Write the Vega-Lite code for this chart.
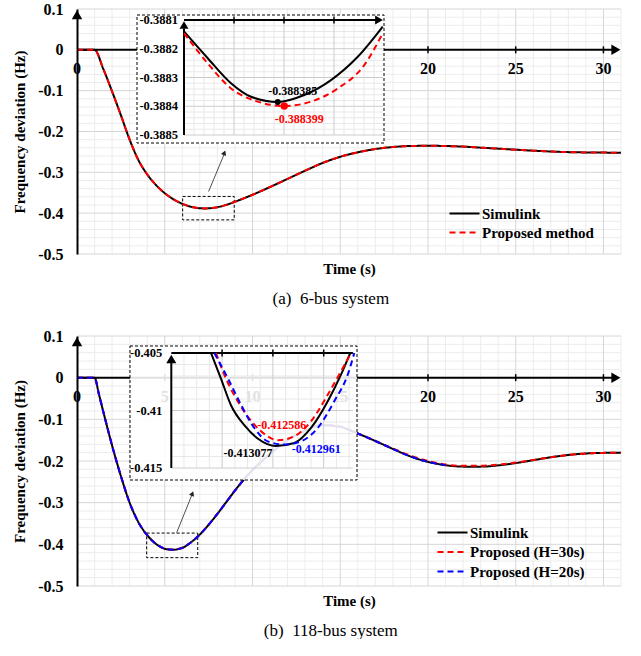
{
  "$schema": "https://vega.github.io/schema/vega-lite/v6.json",
  "padding": {"left": 12, "top": 1, "right": 0, "bottom": 0},
  "background": "white",
  "config": {
    "font": "Liberation Serif",
    "view": {"stroke": null},
    "locale": {"number": {"decimal": ".", "thousands": ",", "grouping": [3], "currency": ["$", ""], "minus": "-"}},
    "axis": {"labelColor": "black", "titleColor": "black"}
  },
  "spacing": 21,
  "resolve": {"scale": {"color": "independent", "strokeDash": "independent"}},
  "datasets": {
    "p1": [
      {"t":0,"v":0,"s":"Simulink"},{"t":1,"v":0,"s":"Simulink"},{"t":1.5,"v":-0.047,"s":"Simulink"},{"t":2,"v":-0.102,"s":"Simulink"},{"t":2.5,"v":-0.16,"s":"Simulink"},{"t":3,"v":-0.22,"s":"Simulink"},{"t":3.5,"v":-0.27,"s":"Simulink"},{"t":4,"v":-0.305,"s":"Simulink"},{"t":4.5,"v":-0.331,"s":"Simulink"},{"t":5,"v":-0.351,"s":"Simulink"},{"t":5.5,"v":-0.366,"s":"Simulink"},{"t":6,"v":-0.377,"s":"Simulink"},{"t":6.5,"v":-0.3842,"s":"Simulink"},{"t":7,"v":-0.3879,"s":"Simulink"},{"t":7.25,"v":-0.3884,"s":"Simulink"},{"t":7.5,"v":-0.3881,"s":"Simulink"},{"t":8,"v":-0.3853,"s":"Simulink"},{"t":8.5,"v":-0.3797,"s":"Simulink"},{"t":9,"v":-0.372,"s":"Simulink"},{"t":10,"v":-0.355,"s":"Simulink"},{"t":11,"v":-0.336,"s":"Simulink"},{"t":12,"v":-0.316,"s":"Simulink"},{"t":13,"v":-0.296,"s":"Simulink"},{"t":14,"v":-0.277,"s":"Simulink"},{"t":15,"v":-0.262,"s":"Simulink"},{"t":16,"v":-0.251,"s":"Simulink"},{"t":17,"v":-0.243,"s":"Simulink"},{"t":18,"v":-0.238,"s":"Simulink"},{"t":19,"v":-0.2355,"s":"Simulink"},{"t":20,"v":-0.235,"s":"Simulink"},{"t":21,"v":-0.2355,"s":"Simulink"},{"t":22,"v":-0.237,"s":"Simulink"},{"t":23,"v":-0.2395,"s":"Simulink"},{"t":24,"v":-0.242,"s":"Simulink"},{"t":25,"v":-0.2445,"s":"Simulink"},{"t":26,"v":-0.247,"s":"Simulink"},{"t":27,"v":-0.249,"s":"Simulink"},{"t":28,"v":-0.2505,"s":"Simulink"},{"t":29,"v":-0.2513,"s":"Simulink"},{"t":30,"v":-0.2517,"s":"Simulink"},{"t":31,"v":-0.2518,"s":"Simulink"},
      {"t":0,"v":0,"s":"Proposed method"},{"t":1,"v":0,"s":"Proposed method"},{"t":1.5,"v":-0.047,"s":"Proposed method"},{"t":2,"v":-0.102,"s":"Proposed method"},{"t":2.5,"v":-0.16,"s":"Proposed method"},{"t":3,"v":-0.22,"s":"Proposed method"},{"t":3.5,"v":-0.27,"s":"Proposed method"},{"t":4,"v":-0.305,"s":"Proposed method"},{"t":4.5,"v":-0.331,"s":"Proposed method"},{"t":5,"v":-0.351,"s":"Proposed method"},{"t":5.5,"v":-0.366,"s":"Proposed method"},{"t":6,"v":-0.377,"s":"Proposed method"},{"t":6.5,"v":-0.3842,"s":"Proposed method"},{"t":7,"v":-0.3879,"s":"Proposed method"},{"t":7.25,"v":-0.3884,"s":"Proposed method"},{"t":7.5,"v":-0.3881,"s":"Proposed method"},{"t":8,"v":-0.3853,"s":"Proposed method"},{"t":8.5,"v":-0.3797,"s":"Proposed method"},{"t":9,"v":-0.372,"s":"Proposed method"},{"t":10,"v":-0.355,"s":"Proposed method"},{"t":11,"v":-0.336,"s":"Proposed method"},{"t":12,"v":-0.316,"s":"Proposed method"},{"t":13,"v":-0.296,"s":"Proposed method"},{"t":14,"v":-0.277,"s":"Proposed method"},{"t":15,"v":-0.262,"s":"Proposed method"},{"t":16,"v":-0.251,"s":"Proposed method"},{"t":17,"v":-0.243,"s":"Proposed method"},{"t":18,"v":-0.238,"s":"Proposed method"},{"t":19,"v":-0.2355,"s":"Proposed method"},{"t":20,"v":-0.235,"s":"Proposed method"},{"t":21,"v":-0.2355,"s":"Proposed method"},{"t":22,"v":-0.237,"s":"Proposed method"},{"t":23,"v":-0.2395,"s":"Proposed method"},{"t":24,"v":-0.242,"s":"Proposed method"},{"t":25,"v":-0.2445,"s":"Proposed method"},{"t":26,"v":-0.247,"s":"Proposed method"},{"t":27,"v":-0.249,"s":"Proposed method"},{"t":28,"v":-0.2505,"s":"Proposed method"},{"t":29,"v":-0.2513,"s":"Proposed method"},{"t":30,"v":-0.2517,"s":"Proposed method"},{"t":31,"v":-0.2518,"s":"Proposed method"}
    ],
    "p2": [
      {"t":0,"v":0,"s":"Simulink"},{"t":1,"v":0,"s":"Simulink"},{"t":1.25,"v":-0.04,"s":"Simulink"},{"t":1.5,"v":-0.082,"s":"Simulink"},{"t":2,"v":-0.163,"s":"Simulink"},{"t":2.5,"v":-0.236,"s":"Simulink"},{"t":3,"v":-0.3,"s":"Simulink"},{"t":3.5,"v":-0.347,"s":"Simulink"},{"t":4,"v":-0.378,"s":"Simulink"},{"t":4.5,"v":-0.399,"s":"Simulink"},{"t":5,"v":-0.4105,"s":"Simulink"},{"t":5.45,"v":-0.4131,"s":"Simulink"},{"t":6,"v":-0.4085,"s":"Simulink"},{"t":6.5,"v":-0.395,"s":"Simulink"},{"t":7,"v":-0.3765,"s":"Simulink"},{"t":7.5,"v":-0.353,"s":"Simulink"},{"t":8,"v":-0.327,"s":"Simulink"},{"t":8.5,"v":-0.299,"s":"Simulink"},{"t":9,"v":-0.271,"s":"Simulink"},{"t":9.5,"v":-0.245,"s":"Simulink"},{"t":10,"v":-0.222,"s":"Simulink"},{"t":11,"v":-0.183,"s":"Simulink"},{"t":12,"v":-0.15,"s":"Simulink"},{"t":13,"v":-0.127,"s":"Simulink"},{"t":14,"v":-0.114,"s":"Simulink"},{"t":15,"v":-0.118,"s":"Simulink"},{"t":16,"v":-0.134,"s":"Simulink"},{"t":17,"v":-0.152,"s":"Simulink"},{"t":18,"v":-0.171,"s":"Simulink"},{"t":19,"v":-0.189,"s":"Simulink"},{"t":20,"v":-0.202,"s":"Simulink"},{"t":21,"v":-0.21,"s":"Simulink"},{"t":22,"v":-0.2135,"s":"Simulink"},{"t":23,"v":-0.2135,"s":"Simulink"},{"t":24,"v":-0.2105,"s":"Simulink"},{"t":25,"v":-0.205,"s":"Simulink"},{"t":26,"v":-0.198,"s":"Simulink"},{"t":27,"v":-0.191,"s":"Simulink"},{"t":28,"v":-0.1855,"s":"Simulink"},{"t":29,"v":-0.182,"s":"Simulink"},{"t":30,"v":-0.1805,"s":"Simulink"},{"t":31,"v":-0.18,"s":"Simulink"},
      {"t":0,"v":0,"s":"Proposed (H=30s)"},{"t":1,"v":0,"s":"Proposed (H=30s)"},{"t":1.25,"v":-0.04,"s":"Proposed (H=30s)"},{"t":1.5,"v":-0.082,"s":"Proposed (H=30s)"},{"t":2,"v":-0.163,"s":"Proposed (H=30s)"},{"t":2.5,"v":-0.236,"s":"Proposed (H=30s)"},{"t":3,"v":-0.3,"s":"Proposed (H=30s)"},{"t":3.5,"v":-0.347,"s":"Proposed (H=30s)"},{"t":4,"v":-0.378,"s":"Proposed (H=30s)"},{"t":4.5,"v":-0.3988,"s":"Proposed (H=30s)"},{"t":5,"v":-0.4101,"s":"Proposed (H=30s)"},{"t":5.45,"v":-0.4126,"s":"Proposed (H=30s)"},{"t":6,"v":-0.4082,"s":"Proposed (H=30s)"},{"t":6.5,"v":-0.395,"s":"Proposed (H=30s)"},{"t":7,"v":-0.3765,"s":"Proposed (H=30s)"},{"t":7.5,"v":-0.353,"s":"Proposed (H=30s)"},{"t":8,"v":-0.327,"s":"Proposed (H=30s)"},{"t":8.5,"v":-0.299,"s":"Proposed (H=30s)"},{"t":9,"v":-0.271,"s":"Proposed (H=30s)"},{"t":9.5,"v":-0.245,"s":"Proposed (H=30s)"},{"t":10,"v":-0.222,"s":"Proposed (H=30s)"},{"t":11,"v":-0.183,"s":"Proposed (H=30s)"},{"t":12,"v":-0.15,"s":"Proposed (H=30s)"},{"t":13,"v":-0.127,"s":"Proposed (H=30s)"},{"t":14,"v":-0.114,"s":"Proposed (H=30s)"},{"t":15,"v":-0.118,"s":"Proposed (H=30s)"},{"t":16,"v":-0.134,"s":"Proposed (H=30s)"},{"t":17,"v":-0.152,"s":"Proposed (H=30s)"},{"t":18,"v":-0.17,"s":"Proposed (H=30s)"},{"t":19,"v":-0.187,"s":"Proposed (H=30s)"},{"t":20,"v":-0.2,"s":"Proposed (H=30s)"},{"t":21,"v":-0.2085,"s":"Proposed (H=30s)"},{"t":22,"v":-0.2115,"s":"Proposed (H=30s)"},{"t":23,"v":-0.2115,"s":"Proposed (H=30s)"},{"t":24,"v":-0.2088,"s":"Proposed (H=30s)"},{"t":25,"v":-0.2038,"s":"Proposed (H=30s)"},{"t":26,"v":-0.1975,"s":"Proposed (H=30s)"},{"t":27,"v":-0.191,"s":"Proposed (H=30s)"},{"t":28,"v":-0.1855,"s":"Proposed (H=30s)"},{"t":29,"v":-0.182,"s":"Proposed (H=30s)"},{"t":30,"v":-0.1805,"s":"Proposed (H=30s)"},{"t":31,"v":-0.18,"s":"Proposed (H=30s)"},
      {"t":0,"v":0,"s":"Proposed (H=20s)"},{"t":1,"v":0,"s":"Proposed (H=20s)"},{"t":1.25,"v":-0.04,"s":"Proposed (H=20s)"},{"t":1.5,"v":-0.082,"s":"Proposed (H=20s)"},{"t":2,"v":-0.163,"s":"Proposed (H=20s)"},{"t":2.5,"v":-0.236,"s":"Proposed (H=20s)"},{"t":3,"v":-0.3,"s":"Proposed (H=20s)"},{"t":3.5,"v":-0.347,"s":"Proposed (H=20s)"},{"t":4,"v":-0.378,"s":"Proposed (H=20s)"},{"t":4.5,"v":-0.399,"s":"Proposed (H=20s)"},{"t":5,"v":-0.4103,"s":"Proposed (H=20s)"},{"t":5.45,"v":-0.41296,"s":"Proposed (H=20s)"},{"t":6,"v":-0.4085,"s":"Proposed (H=20s)"},{"t":6.5,"v":-0.395,"s":"Proposed (H=20s)"},{"t":7,"v":-0.3765,"s":"Proposed (H=20s)"},{"t":7.5,"v":-0.353,"s":"Proposed (H=20s)"},{"t":8,"v":-0.327,"s":"Proposed (H=20s)"},{"t":8.5,"v":-0.299,"s":"Proposed (H=20s)"},{"t":9,"v":-0.271,"s":"Proposed (H=20s)"},{"t":9.5,"v":-0.245,"s":"Proposed (H=20s)"},{"t":10,"v":-0.222,"s":"Proposed (H=20s)"},{"t":11,"v":-0.183,"s":"Proposed (H=20s)"},{"t":12,"v":-0.15,"s":"Proposed (H=20s)"},{"t":13,"v":-0.127,"s":"Proposed (H=20s)"},{"t":14,"v":-0.114,"s":"Proposed (H=20s)"},{"t":15,"v":-0.118,"s":"Proposed (H=20s)"},{"t":16,"v":-0.134,"s":"Proposed (H=20s)"},{"t":17,"v":-0.152,"s":"Proposed (H=20s)"},{"t":18,"v":-0.171,"s":"Proposed (H=20s)"},{"t":19,"v":-0.189,"s":"Proposed (H=20s)"},{"t":20,"v":-0.202,"s":"Proposed (H=20s)"},{"t":21,"v":-0.21,"s":"Proposed (H=20s)"}
    ],
    "xl1": [{"t":0},{"t":20},{"t":25},{"t":30}],
    "xl2": [{"t":0},{"t":5},{"t":10},{"t":15},{"t":20},{"t":25},{"t":30}],
    "xt": [{"t":5},{"t":10},{"t":15},{"t":20},{"t":25},{"t":30}],
    "gmxmin": [{"x":1},{"x":2},{"x":3},{"x":4},{"x":6},{"x":7},{"x":8},{"x":9},{"x":11},{"x":12},{"x":13},{"x":14},{"x":16},{"x":17},{"x":18},{"x":19},{"x":21},{"x":22},{"x":23},{"x":24},{"x":26},{"x":27},{"x":28},{"x":29},{"x":31}],
    "gmxmaj": [{"x":5},{"x":10},{"x":15},{"x":20},{"x":25},{"x":30}],
    "gmymin": [{"y":-0.48},{"y":-0.46},{"y":-0.44},{"y":-0.42},{"y":-0.38},{"y":-0.36},{"y":-0.34},{"y":-0.32},{"y":-0.28},{"y":-0.26},{"y":-0.24},{"y":-0.22},{"y":-0.18},{"y":-0.16},{"y":-0.14},{"y":-0.12},{"y":-0.08},{"y":-0.06},{"y":-0.04},{"y":-0.02},{"y":0.02},{"y":0.04},{"y":0.06},{"y":0.08}],
    "gmymaj": [{"y":-0.5},{"y":-0.4},{"y":-0.3},{"y":-0.2},{"y":-0.1},{"y":0.1}],
    "i1vmin": [{"x":6.94},{"x":6.98},{"x":7.02},{"x":7.06},{"x":7.14},{"x":7.18},{"x":7.22},{"x":7.26},{"x":7.34},{"x":7.38},{"x":7.42},{"x":7.46},{"x":7.54},{"x":7.58},{"x":7.62},{"x":7.66}],
    "i1vmaj": [{"x":7.1},{"x":7.3},{"x":7.5}],
    "i1hmin": [{"y":-0.38812},{"y":-0.38814},{"y":-0.38816},{"y":-0.38818},{"y":-0.38822},{"y":-0.38824},{"y":-0.38826},{"y":-0.38828},{"y":-0.38832},{"y":-0.38834},{"y":-0.38836},{"y":-0.38838},{"y":-0.38842},{"y":-0.38844},{"y":-0.38846},{"y":-0.38848}],
    "i1hmaj": [{"y":-0.3882},{"y":-0.3883},{"y":-0.3884},{"y":-0.3885}],
    "i1lab": [{"y":-0.3881},{"y":-0.3882},{"y":-0.3883},{"y":-0.3884},{"y":-0.3885}],
    "i1k": [{"t":6.9,"v":-0.38814},{"t":6.995,"v":-0.388233},{"t":7.088,"v":-0.38832},{"t":7.168,"v":-0.388367},{"t":7.275,"v":-0.388385},{"t":7.381,"v":-0.388361},{"t":7.488,"v":-0.388309},{"t":7.595,"v":-0.388228},{"t":7.695,"v":-0.388123}],
    "i1r": [{"t":6.9,"v":-0.388146},{"t":6.995,"v":-0.388251},{"t":7.088,"v":-0.388338},{"t":7.195,"v":-0.388384},{"t":7.301,"v":-0.388399},{"t":7.408,"v":-0.388384},{"t":7.515,"v":-0.388338},{"t":7.621,"v":-0.388257},{"t":7.695,"v":-0.388146}],
    "i2vmin": [{"x":4.7},{"x":4.8},{"x":4.9},{"x":5.1},{"x":5.2},{"x":5.3},{"x":5.5},{"x":5.6},{"x":5.7},{"x":5.9},{"x":6.0}],
    "i2vmaj": [{"x":5.0},{"x":5.4},{"x":5.8}],
    "i2hmin": [{"y":-0.406},{"y":-0.407},{"y":-0.408},{"y":-0.409},{"y":-0.411},{"y":-0.412},{"y":-0.413},{"y":-0.414}],
    "i2hmaj": [{"y":-0.41},{"y":-0.415}],
    "i2lab": [{"y":-0.405},{"y":-0.41},{"y":-0.415}],
    "i2k": [{"t":4.913,"v":-0.405},{"t":4.991,"v":-0.40722},{"t":5.07,"v":-0.40954},{"t":5.175,"v":-0.41128},{"t":5.28,"v":-0.41243},{"t":5.424,"v":-0.413077},{"t":5.569,"v":-0.41283},{"t":5.7,"v":-0.41152},{"t":5.832,"v":-0.4092},{"t":5.936,"v":-0.40688},{"t":6.009,"v":-0.405}],
    "i2r": [{"t":4.952,"v":-0.405},{"t":5.017,"v":-0.40689},{"t":5.123,"v":-0.4092},{"t":5.254,"v":-0.41123},{"t":5.359,"v":-0.41224},{"t":5.438,"v":-0.412586},{"t":5.569,"v":-0.41224},{"t":5.7,"v":-0.41094},{"t":5.832,"v":-0.40863},{"t":5.936,"v":-0.40659},{"t":6.015,"v":-0.405}],
    "i2b": [{"t":4.939,"v":-0.405},{"t":5.044,"v":-0.40717},{"t":5.149,"v":-0.4095},{"t":5.254,"v":-0.41152},{"t":5.359,"v":-0.41268},{"t":5.49,"v":-0.412961},{"t":5.621,"v":-0.41268},{"t":5.753,"v":-0.41152},{"t":5.883,"v":-0.4092},{"t":5.989,"v":-0.40689},{"t":6.041,"v":-0.405}]
  },
  "vconcat": [
    {
      "width": 544, "height": 245,
      "title": {"text": "(a)\u00a0 6-bus system", "orient": "bottom", "anchor": "middle", "frame": "bounds", "fontSize": 17, "fontWeight": "normal", "offset": 15, "dx": 12, "color": "black"},
      "resolve": {"scale": {"x": "independent", "y": "independent"}},
      "layer": [
        {
          "layer": [
            {"data": {"name": "gmxmin"}, "mark": {"type": "rule", "color": "#ececec", "strokeWidth": 1},
             "encoding": {"x": {"field": "x", "type": "quantitative", "scale": {"domain": [0, 31], "nice": false, "zero": false}}, "y": {"datum": -0.5, "type": "quantitative", "scale": {"domain": [-0.5, 0.1], "nice": false, "zero": false}}, "y2": {"datum": 0.1}}},
            {"data": {"name": "gmymin"}, "mark": {"type": "rule", "color": "#ececec", "strokeWidth": 1},
             "encoding": {"y": {"field": "y", "type": "quantitative"}, "x": {"datum": 0, "type": "quantitative"}, "x2": {"datum": 31}}},
            {"data": {"name": "gmxmaj"}, "mark": {"type": "rule", "color": "#d6d6d6", "strokeWidth": 1},
             "encoding": {"x": {"field": "x", "type": "quantitative"}, "y": {"datum": -0.5, "type": "quantitative"}, "y2": {"datum": 0.1}}},
            {"data": {"name": "gmymaj"}, "mark": {"type": "rule", "color": "#d6d6d6", "strokeWidth": 1},
             "encoding": {"y": {"field": "y", "type": "quantitative"}, "x": {"datum": 0, "type": "quantitative"}, "x2": {"datum": 31}}},
            {"data": {"values": [{}]}, "mark": {"type": "rule", "color": "black", "strokeWidth": 2},
             "encoding": {"x": {"datum": 0, "type": "quantitative"}, "x2": {"datum": 30.7}, "y": {"datum": 0, "type": "quantitative"}}},
            {"data": {"values": [{}]}, "mark": {"type": "point", "shape": "triangle-right", "filled": true, "color": "black", "size": 110, "opacity": 1},
             "encoding": {"x": {"datum": 30.71, "type": "quantitative"}, "y": {"datum": 0, "type": "quantitative"}}},
            {"data": {"values": [{}]}, "mark": {"type": "point", "shape": "triangle-up", "filled": true, "color": "black", "size": 110, "opacity": 1},
             "encoding": {"x": {"datum": 0, "type": "quantitative"}, "y": {"datum": 0.086, "type": "quantitative"}}},
            {"data": {"name": "xt"}, "mark": {"type": "tick", "orient": "vertical", "size": 7, "thickness": 1.5, "color": "black", "opacity": 1},
             "encoding": {"x": {"field": "t", "type": "quantitative"}, "y": {"datum": 0, "type": "quantitative"}}},
            {"data": {"name": "xl1"}, "mark": {"type": "text", "fontSize": 16, "fontWeight": "bold", "dy": 19, "color": "black", "baseline": "middle"},
             "encoding": {"x": {"field": "t", "type": "quantitative"}, "y": {"datum": 0, "type": "quantitative"}, "text": {"field": "t", "type": "quantitative"}}},
            {"data": {"values": [{}]}, "mark": {"type": "rect", "fill": null, "fillOpacity": 0, "stroke": "black", "strokeWidth": 1, "strokeDash": [3, 2]},
             "encoding": {"x": {"datum": 6.02, "type": "quantitative"}, "x2": {"datum": 8.96}, "y": {"datum": -0.4164, "type": "quantitative"}, "y2": {"datum": -0.359}}},
            {"data": {"values": [{}]}, "mark": {"type": "rule", "color": "#222222", "strokeWidth": 0.8},
             "encoding": {"x": {"datum": 7.5, "type": "quantitative"}, "x2": {"datum": 8.42}, "y": {"datum": -0.347, "type": "quantitative"}, "y2": {"datum": -0.252}}},
            {"data": {"values": [{}]}, "mark": {"type": "point", "shape": "triangle-up", "filled": true, "color": "#222222", "size": 30, "opacity": 1, "angle": 22},
             "encoding": {"x": {"datum": 8.4, "type": "quantitative"}, "y": {"datum": -0.252, "type": "quantitative"}}},
            {"data": {"name": "p1"}, "mark": {"type": "line", "interpolate": "monotone", "strokeWidth": 2},
             "encoding": {
               "x": {"field": "t", "type": "quantitative", "scale": {"domain": [0, 31], "nice": false, "zero": false},
                     "axis": {"title": "Time (s)", "grid": false, "ticks": false, "labels": false, "domain": false, "titleFontSize": 15, "titleFontWeight": "bold", "titlePadding": 7}},
               "y": {"field": "v", "type": "quantitative", "scale": {"domain": [-0.5, 0.1], "nice": false, "zero": false},
                     "axis": {"title": "Frequency deviation (Hz)", "grid": false, "ticks": false, "domain": true, "domainColor": "black", "domainWidth": 2, "zindex": 1, "values": [-0.5, -0.4, -0.3, -0.2, -0.1, 0, 0.1], "format": ".1~f", "labelPadding": 14, "labelFontSize": 16, "labelFontWeight": "bold", "titleFontSize": 15, "titleFontWeight": "bold", "titlePadding": 10}},
               "color": {"field": "s", "type": "nominal", "scale": {"domain": ["Simulink", "Proposed method"], "range": ["black", "#ff0000"]},
                         "legend": {"title": null, "orient": "none", "legendX": 380, "legendY": 197, "labelFontSize": 15, "labelFontWeight": "bold", "labelColor": "black", "symbolType": "M-3,0H3", "symbolStrokeWidth": 2, "symbolSize": 100, "rowPadding": 3, "labelOffset": 10, "padding": 0}},
               "strokeDash": {"field": "s", "type": "nominal", "scale": {"domain": ["Simulink", "Proposed method"], "range": [[1, 0], [6, 4]]},
                         "legend": {"title": null, "orient": "none", "legendX": 380, "legendY": 197, "labelFontSize": 15, "labelFontWeight": "bold", "labelColor": "black", "symbolType": "M-3,0H3", "symbolStrokeWidth": 2, "symbolSize": 100, "rowPadding": 3, "labelOffset": 10, "padding": 0}}
             }}
          ]
        },
        {
          "layer": [
            {"data": {"values": [{}]}, "mark": {"type": "rect", "fill": "white", "stroke": "black", "strokeWidth": 1, "strokeDash": [3, 2]},
             "encoding": {"x": {"datum": 6.712, "type": "quantitative", "scale": {"domain": [6.472, 8.648], "nice": false, "zero": false}, "axis": null}, "x2": {"datum": 7.7},
                          "y": {"datum": -0.38852783, "type": "quantitative", "scale": {"domain": [-0.38891391, -0.38806174], "nice": false, "zero": false}, "axis": null}, "y2": {"datum": -0.38808261}}},
            {"data": {"name": "i1vmin"}, "mark": {"type": "rule", "color": "#e8e8e8", "strokeWidth": 1},
             "encoding": {"x": {"field": "x", "type": "quantitative", "axis": null}, "y": {"datum": -0.3885, "type": "quantitative", "axis": null}, "y2": {"datum": -0.3881}}},
            {"data": {"name": "i1hmin"}, "mark": {"type": "rule", "color": "#e8e8e8", "strokeWidth": 1},
             "encoding": {"y": {"field": "y", "type": "quantitative", "axis": null}, "x": {"datum": 6.9, "type": "quantitative", "axis": null}, "x2": {"datum": 7.696}}},
            {"data": {"name": "i1vmaj"}, "mark": {"type": "rule", "color": "#cccccc", "strokeWidth": 1},
             "encoding": {"x": {"field": "x", "type": "quantitative", "axis": null}, "y": {"datum": -0.3885, "type": "quantitative", "axis": null}, "y2": {"datum": -0.3881}}},
            {"data": {"name": "i1hmaj"}, "mark": {"type": "rule", "color": "#cccccc", "strokeWidth": 1},
             "encoding": {"y": {"field": "y", "type": "quantitative", "axis": null}, "x": {"datum": 6.9, "type": "quantitative", "axis": null}, "x2": {"datum": 7.696}}},
            {"data": {"values": [{}]}, "mark": {"type": "rule", "color": "black", "strokeWidth": 2},
             "encoding": {"x": {"datum": 6.9, "type": "quantitative", "axis": null}, "y": {"datum": -0.3885, "type": "quantitative", "axis": null}, "y2": {"datum": -0.38813}}},
            {"data": {"values": [{}]}, "mark": {"type": "rule", "color": "black", "strokeWidth": 2},
             "encoding": {"x": {"datum": 6.9, "type": "quantitative", "axis": null}, "x2": {"datum": 7.67}, "y": {"datum": -0.3881, "type": "quantitative", "axis": null}}},
            {"data": {"values": [{}]}, "mark": {"type": "point", "shape": "triangle-up", "filled": true, "color": "black", "size": 80, "opacity": 1},
             "encoding": {"x": {"datum": 6.9, "type": "quantitative", "axis": null}, "y": {"datum": -0.38811739, "type": "quantitative", "axis": null}}},
            {"data": {"values": [{}]}, "mark": {"type": "point", "shape": "triangle-right", "filled": true, "color": "black", "size": 80, "opacity": 1},
             "encoding": {"x": {"datum": 7.68, "type": "quantitative", "axis": null}, "y": {"datum": -0.3881, "type": "quantitative", "axis": null}}},
            {"data": {"name": "i1vmaj"}, "mark": {"type": "tick", "orient": "vertical", "size": 7, "thickness": 1.5, "color": "black", "opacity": 1},
             "encoding": {"x": {"field": "x", "type": "quantitative", "axis": null}, "y": {"datum": -0.3881, "type": "quantitative", "axis": null}}},
            {"data": {"name": "i1lab"}, "mark": {"type": "text", "fontSize": 12.5, "fontWeight": "bold", "align": "right", "baseline": "middle", "dx": -6, "color": "black"},
             "encoding": {"x": {"datum": 6.9, "type": "quantitative", "axis": null}, "y": {"field": "y", "type": "quantitative", "axis": null}, "text": {"field": "y", "type": "quantitative", "format": ".4f"}}},
            {"data": {"name": "i1k"}, "mark": {"type": "line", "interpolate": "monotone", "color": "black", "strokeWidth": 2},
             "encoding": {"x": {"field": "t", "type": "quantitative", "axis": null}, "y": {"field": "v", "type": "quantitative", "axis": null}}},
            {"data": {"name": "i1r"}, "mark": {"type": "line", "interpolate": "monotone", "color": "#ff0000", "strokeWidth": 2, "strokeDash": [6, 4]},
             "encoding": {"x": {"field": "t", "type": "quantitative", "axis": null}, "y": {"field": "v", "type": "quantitative", "axis": null}}},
            {"data": {"values": [{"t": 7.275, "v": -0.388385}]}, "mark": {"type": "point", "filled": true, "color": "black", "size": 35, "opacity": 1},
             "encoding": {"x": {"field": "t", "type": "quantitative", "axis": null}, "y": {"field": "v", "type": "quantitative", "axis": null}}},
            {"data": {"values": [{"t": 7.275, "v": -0.388385}]}, "mark": {"type": "text", "fontSize": 12, "fontWeight": "bold", "color": "black", "dx": 15, "dy": -11, "baseline": "middle"},
             "encoding": {"x": {"field": "t", "type": "quantitative", "axis": null}, "y": {"field": "v", "type": "quantitative", "axis": null}, "text": {"field": "v", "type": "quantitative", "format": ".6f"}}},
            {"data": {"values": [{"t": 7.301, "v": -0.388399}]}, "mark": {"type": "point", "filled": true, "color": "#ff0000", "size": 55, "opacity": 1},
             "encoding": {"x": {"field": "t", "type": "quantitative", "axis": null}, "y": {"field": "v", "type": "quantitative", "axis": null}}},
            {"data": {"values": [{"t": 7.301, "v": -0.388399}]}, "mark": {"type": "text", "fontSize": 12, "fontWeight": "bold", "color": "#ff0000", "dx": 15, "dy": 13, "baseline": "middle"},
             "encoding": {"x": {"field": "t", "type": "quantitative", "axis": null}, "y": {"field": "v", "type": "quantitative", "axis": null}, "text": {"field": "v", "type": "quantitative", "format": ".6f"}}}
          ]
        }
      ]
    },
    {
      "width": 544, "height": 250,
      "title": {"text": "(b)\u00a0 118-bus system", "orient": "bottom", "anchor": "middle", "frame": "bounds", "fontSize": 17, "fontWeight": "normal", "offset": 15, "dx": 12, "color": "black"},
      "resolve": {"scale": {"x": "independent", "y": "independent"}},
      "layer": [
        {
          "layer": [
            {"data": {"name": "gmxmin"}, "mark": {"type": "rule", "color": "#ececec", "strokeWidth": 1},
             "encoding": {"x": {"field": "x", "type": "quantitative", "scale": {"domain": [0, 31], "nice": false, "zero": false}}, "y": {"datum": -0.5, "type": "quantitative", "scale": {"domain": [-0.5, 0.1], "nice": false, "zero": false}}, "y2": {"datum": 0.1}}},
            {"data": {"name": "gmymin"}, "mark": {"type": "rule", "color": "#ececec", "strokeWidth": 1},
             "encoding": {"y": {"field": "y", "type": "quantitative"}, "x": {"datum": 0, "type": "quantitative"}, "x2": {"datum": 31}}},
            {"data": {"name": "gmxmaj"}, "mark": {"type": "rule", "color": "#d6d6d6", "strokeWidth": 1},
             "encoding": {"x": {"field": "x", "type": "quantitative"}, "y": {"datum": -0.5, "type": "quantitative"}, "y2": {"datum": 0.1}}},
            {"data": {"name": "gmymaj"}, "mark": {"type": "rule", "color": "#d6d6d6", "strokeWidth": 1},
             "encoding": {"y": {"field": "y", "type": "quantitative"}, "x": {"datum": 0, "type": "quantitative"}, "x2": {"datum": 31}}},
            {"data": {"values": [{}]}, "mark": {"type": "rule", "color": "black", "strokeWidth": 2},
             "encoding": {"x": {"datum": 0, "type": "quantitative"}, "x2": {"datum": 30.7}, "y": {"datum": 0, "type": "quantitative"}}},
            {"data": {"values": [{}]}, "mark": {"type": "point", "shape": "triangle-right", "filled": true, "color": "black", "size": 110, "opacity": 1},
             "encoding": {"x": {"datum": 30.71, "type": "quantitative"}, "y": {"datum": 0, "type": "quantitative"}}},
            {"data": {"values": [{}]}, "mark": {"type": "point", "shape": "triangle-up", "filled": true, "color": "black", "size": 110, "opacity": 1},
             "encoding": {"x": {"datum": 0, "type": "quantitative"}, "y": {"datum": 0.086, "type": "quantitative"}}},
            {"data": {"name": "xt"}, "mark": {"type": "tick", "orient": "vertical", "size": 7, "thickness": 1.5, "color": "black", "opacity": 1},
             "encoding": {"x": {"field": "t", "type": "quantitative"}, "y": {"datum": 0, "type": "quantitative"}}},
            {"data": {"name": "xl2"}, "mark": {"type": "text", "fontSize": 16, "fontWeight": "bold", "dy": 19, "color": "black", "baseline": "middle"},
             "encoding": {"x": {"field": "t", "type": "quantitative"}, "y": {"datum": 0, "type": "quantitative"}, "text": {"field": "t", "type": "quantitative"}}},
            {"data": {"values": [{}]}, "mark": {"type": "rect", "fill": null, "fillOpacity": 0, "stroke": "black", "strokeWidth": 1, "strokeDash": [3, 2]},
             "encoding": {"x": {"datum": 3.97, "type": "quantitative"}, "x2": {"datum": 6.88}, "y": {"datum": -0.432, "type": "quantitative"}, "y2": {"datum": -0.373}}},
            {"data": {"values": [{}]}, "mark": {"type": "rule", "color": "#222222", "strokeWidth": 0.8},
             "encoding": {"x": {"datum": 5.68, "type": "quantitative"}, "x2": {"datum": 6.58}, "y": {"datum": -0.372, "type": "quantitative"}, "y2": {"datum": -0.278}}},
            {"data": {"values": [{}]}, "mark": {"type": "point", "shape": "triangle-up", "filled": true, "color": "#222222", "size": 30, "opacity": 1, "angle": 22},
             "encoding": {"x": {"datum": 6.576, "type": "quantitative"}, "y": {"datum": -0.278, "type": "quantitative"}}},
            {"data": {"name": "p2"}, "mark": {"type": "line", "interpolate": "monotone", "strokeWidth": 2},
             "encoding": {
               "x": {"field": "t", "type": "quantitative", "scale": {"domain": [0, 31], "nice": false, "zero": false},
                     "axis": {"title": "Time (s)", "grid": false, "ticks": false, "labels": false, "domain": false, "titleFontSize": 15, "titleFontWeight": "bold", "titlePadding": 7}},
               "y": {"field": "v", "type": "quantitative", "scale": {"domain": [-0.5, 0.1], "nice": false, "zero": false},
                     "axis": {"title": "Frequency deviation (Hz)", "grid": false, "ticks": false, "domain": true, "domainColor": "black", "domainWidth": 2, "zindex": 1, "values": [-0.5, -0.4, -0.3, -0.2, -0.1, 0, 0.1], "format": ".1~f", "labelPadding": 14, "labelFontSize": 16, "labelFontWeight": "bold", "titleFontSize": 15, "titleFontWeight": "bold", "titlePadding": 10}},
               "color": {"field": "s", "type": "nominal", "scale": {"domain": ["Simulink", "Proposed (H=30s)", "Proposed (H=20s)"], "range": ["black", "#ff0000", "#0000ff"]},
                         "legend": {"title": null, "orient": "none", "legendX": 368, "legendY": 189, "labelFontSize": 15, "labelFontWeight": "bold", "labelColor": "black", "symbolType": "M-3,0H3", "symbolStrokeWidth": 2, "symbolSize": 100, "rowPadding": 3.5, "labelOffset": 10, "padding": 0}},
               "strokeDash": {"field": "s", "type": "nominal", "scale": {"domain": ["Simulink", "Proposed (H=30s)", "Proposed (H=20s)"], "range": [[1, 0], [6, 4], [6, 4]]},
                         "legend": {"title": null, "orient": "none", "legendX": 368, "legendY": 189, "labelFontSize": 15, "labelFontWeight": "bold", "labelColor": "black", "symbolType": "M-3,0H3", "symbolStrokeWidth": 2, "symbolSize": 100, "rowPadding": 3.5, "labelOffset": 10, "padding": 0}}
             }}
          ]
        },
        {
          "layer": [
            {"data": {"values": [{}]}, "mark": {"type": "rect", "fill": "white", "fillOpacity": 0.88, "stroke": "black", "strokeWidth": 1, "strokeDash": [3, 2]},
             "encoding": {"x": {"datum": 4.2748, "type": "quantitative", "scale": {"domain": [3.8575, 8.141], "nice": false, "zero": false}, "axis": null}, "x2": {"datum": 6.0622},
                          "y": {"datum": -0.41604348, "type": "quantitative", "scale": {"domain": [-0.42526087, -0.40352174], "nice": false, "zero": false}, "axis": null}, "y2": {"datum": -0.4043913}}},
            {"data": {"name": "i2vmin"}, "mark": {"type": "rule", "color": "#e8e8e8", "strokeWidth": 1},
             "encoding": {"x": {"field": "x", "type": "quantitative", "axis": null}, "y": {"datum": -0.415, "type": "quantitative", "axis": null}, "y2": {"datum": -0.405}}},
            {"data": {"name": "i2hmin"}, "mark": {"type": "rule", "color": "#e8e8e8", "strokeWidth": 1},
             "encoding": {"y": {"field": "y", "type": "quantitative", "axis": null}, "x": {"datum": 4.6, "type": "quantitative", "axis": null}, "x2": {"datum": 6.03}}},
            {"data": {"name": "i2vmaj"}, "mark": {"type": "rule", "color": "#cccccc", "strokeWidth": 1},
             "encoding": {"x": {"field": "x", "type": "quantitative", "axis": null}, "y": {"datum": -0.415, "type": "quantitative", "axis": null}, "y2": {"datum": -0.405}}},
            {"data": {"name": "i2hmaj"}, "mark": {"type": "rule", "color": "#cccccc", "strokeWidth": 1},
             "encoding": {"y": {"field": "y", "type": "quantitative", "axis": null}, "x": {"datum": 4.6, "type": "quantitative", "axis": null}, "x2": {"datum": 6.03}}},
            {"data": {"values": [{}]}, "mark": {"type": "rule", "color": "black", "strokeWidth": 2},
             "encoding": {"x": {"datum": 4.6, "type": "quantitative", "axis": null}, "y": {"datum": -0.415, "type": "quantitative", "axis": null}, "y2": {"datum": -0.4055}}},
            {"data": {"values": [{}]}, "mark": {"type": "rule", "color": "black", "strokeWidth": 2},
             "encoding": {"x": {"datum": 4.6, "type": "quantitative", "axis": null}, "x2": {"datum": 6.03}, "y": {"datum": -0.405, "type": "quantitative", "axis": null}}},
            {"data": {"values": [{}]}, "mark": {"type": "point", "shape": "triangle-up", "filled": true, "color": "black", "size": 100, "opacity": 1},
             "encoding": {"x": {"datum": 4.6, "type": "quantitative", "axis": null}, "y": {"datum": -0.40552, "type": "quantitative", "axis": null}}},
            {"data": {"name": "i2vmaj"}, "mark": {"type": "tick", "orient": "vertical", "size": 7, "thickness": 1.5, "color": "black", "opacity": 1},
             "encoding": {"x": {"field": "x", "type": "quantitative", "axis": null}, "y": {"datum": -0.405, "type": "quantitative", "axis": null}}},
            {"data": {"name": "i2lab"}, "mark": {"type": "text", "fontSize": 12.5, "fontWeight": "bold", "align": "right", "baseline": "middle", "dx": -9, "color": "black"},
             "encoding": {"x": {"datum": 4.6, "type": "quantitative", "axis": null}, "y": {"field": "y", "type": "quantitative", "axis": null}, "text": {"field": "y", "type": "quantitative", "format": ".3~f"}}},
            {"data": {"name": "i2k"}, "mark": {"type": "line", "interpolate": "monotone", "color": "black", "strokeWidth": 2},
             "encoding": {"x": {"field": "t", "type": "quantitative", "axis": null}, "y": {"field": "v", "type": "quantitative", "axis": null}}},
            {"data": {"name": "i2r"}, "mark": {"type": "line", "interpolate": "monotone", "color": "#ff0000", "strokeWidth": 2, "strokeDash": [6, 4]},
             "encoding": {"x": {"field": "t", "type": "quantitative", "axis": null}, "y": {"field": "v", "type": "quantitative", "axis": null}}},
            {"data": {"name": "i2b"}, "mark": {"type": "line", "interpolate": "monotone", "color": "#0000ff", "strokeWidth": 2, "strokeDash": [6, 4]},
             "encoding": {"x": {"field": "t", "type": "quantitative", "axis": null}, "y": {"field": "v", "type": "quantitative", "axis": null}}},
            {"data": {"values": [{"t": 5.424, "v": -0.413077}]}, "mark": {"type": "text", "fontSize": 12, "fontWeight": "bold", "color": "black", "dx": -28, "dy": 7, "baseline": "middle"},
             "encoding": {"x": {"field": "t", "type": "quantitative", "axis": null}, "y": {"field": "v", "type": "quantitative", "axis": null}, "text": {"field": "v", "type": "quantitative", "format": ".6f"}}},
            {"data": {"values": [{"t": 5.438, "v": -0.412586}]}, "mark": {"type": "text", "fontSize": 12, "fontWeight": "bold", "color": "#ff0000", "dx": 4, "dy": -15, "baseline": "middle"},
             "encoding": {"x": {"field": "t", "type": "quantitative", "axis": null}, "y": {"field": "v", "type": "quantitative", "axis": null}, "text": {"field": "v", "type": "quantitative", "format": ".6f"}}},
            {"data": {"values": [{"t": 5.49, "v": -0.412961}]}, "mark": {"type": "text", "fontSize": 12, "fontWeight": "bold", "color": "#0000ff", "dx": 32, "dy": 4, "baseline": "middle"},
             "encoding": {"x": {"field": "t", "type": "quantitative", "axis": null}, "y": {"field": "v", "type": "quantitative", "axis": null}, "text": {"field": "v", "type": "quantitative", "format": ".6f"}}}
          ]
        }
      ]
    }
  ]
}
